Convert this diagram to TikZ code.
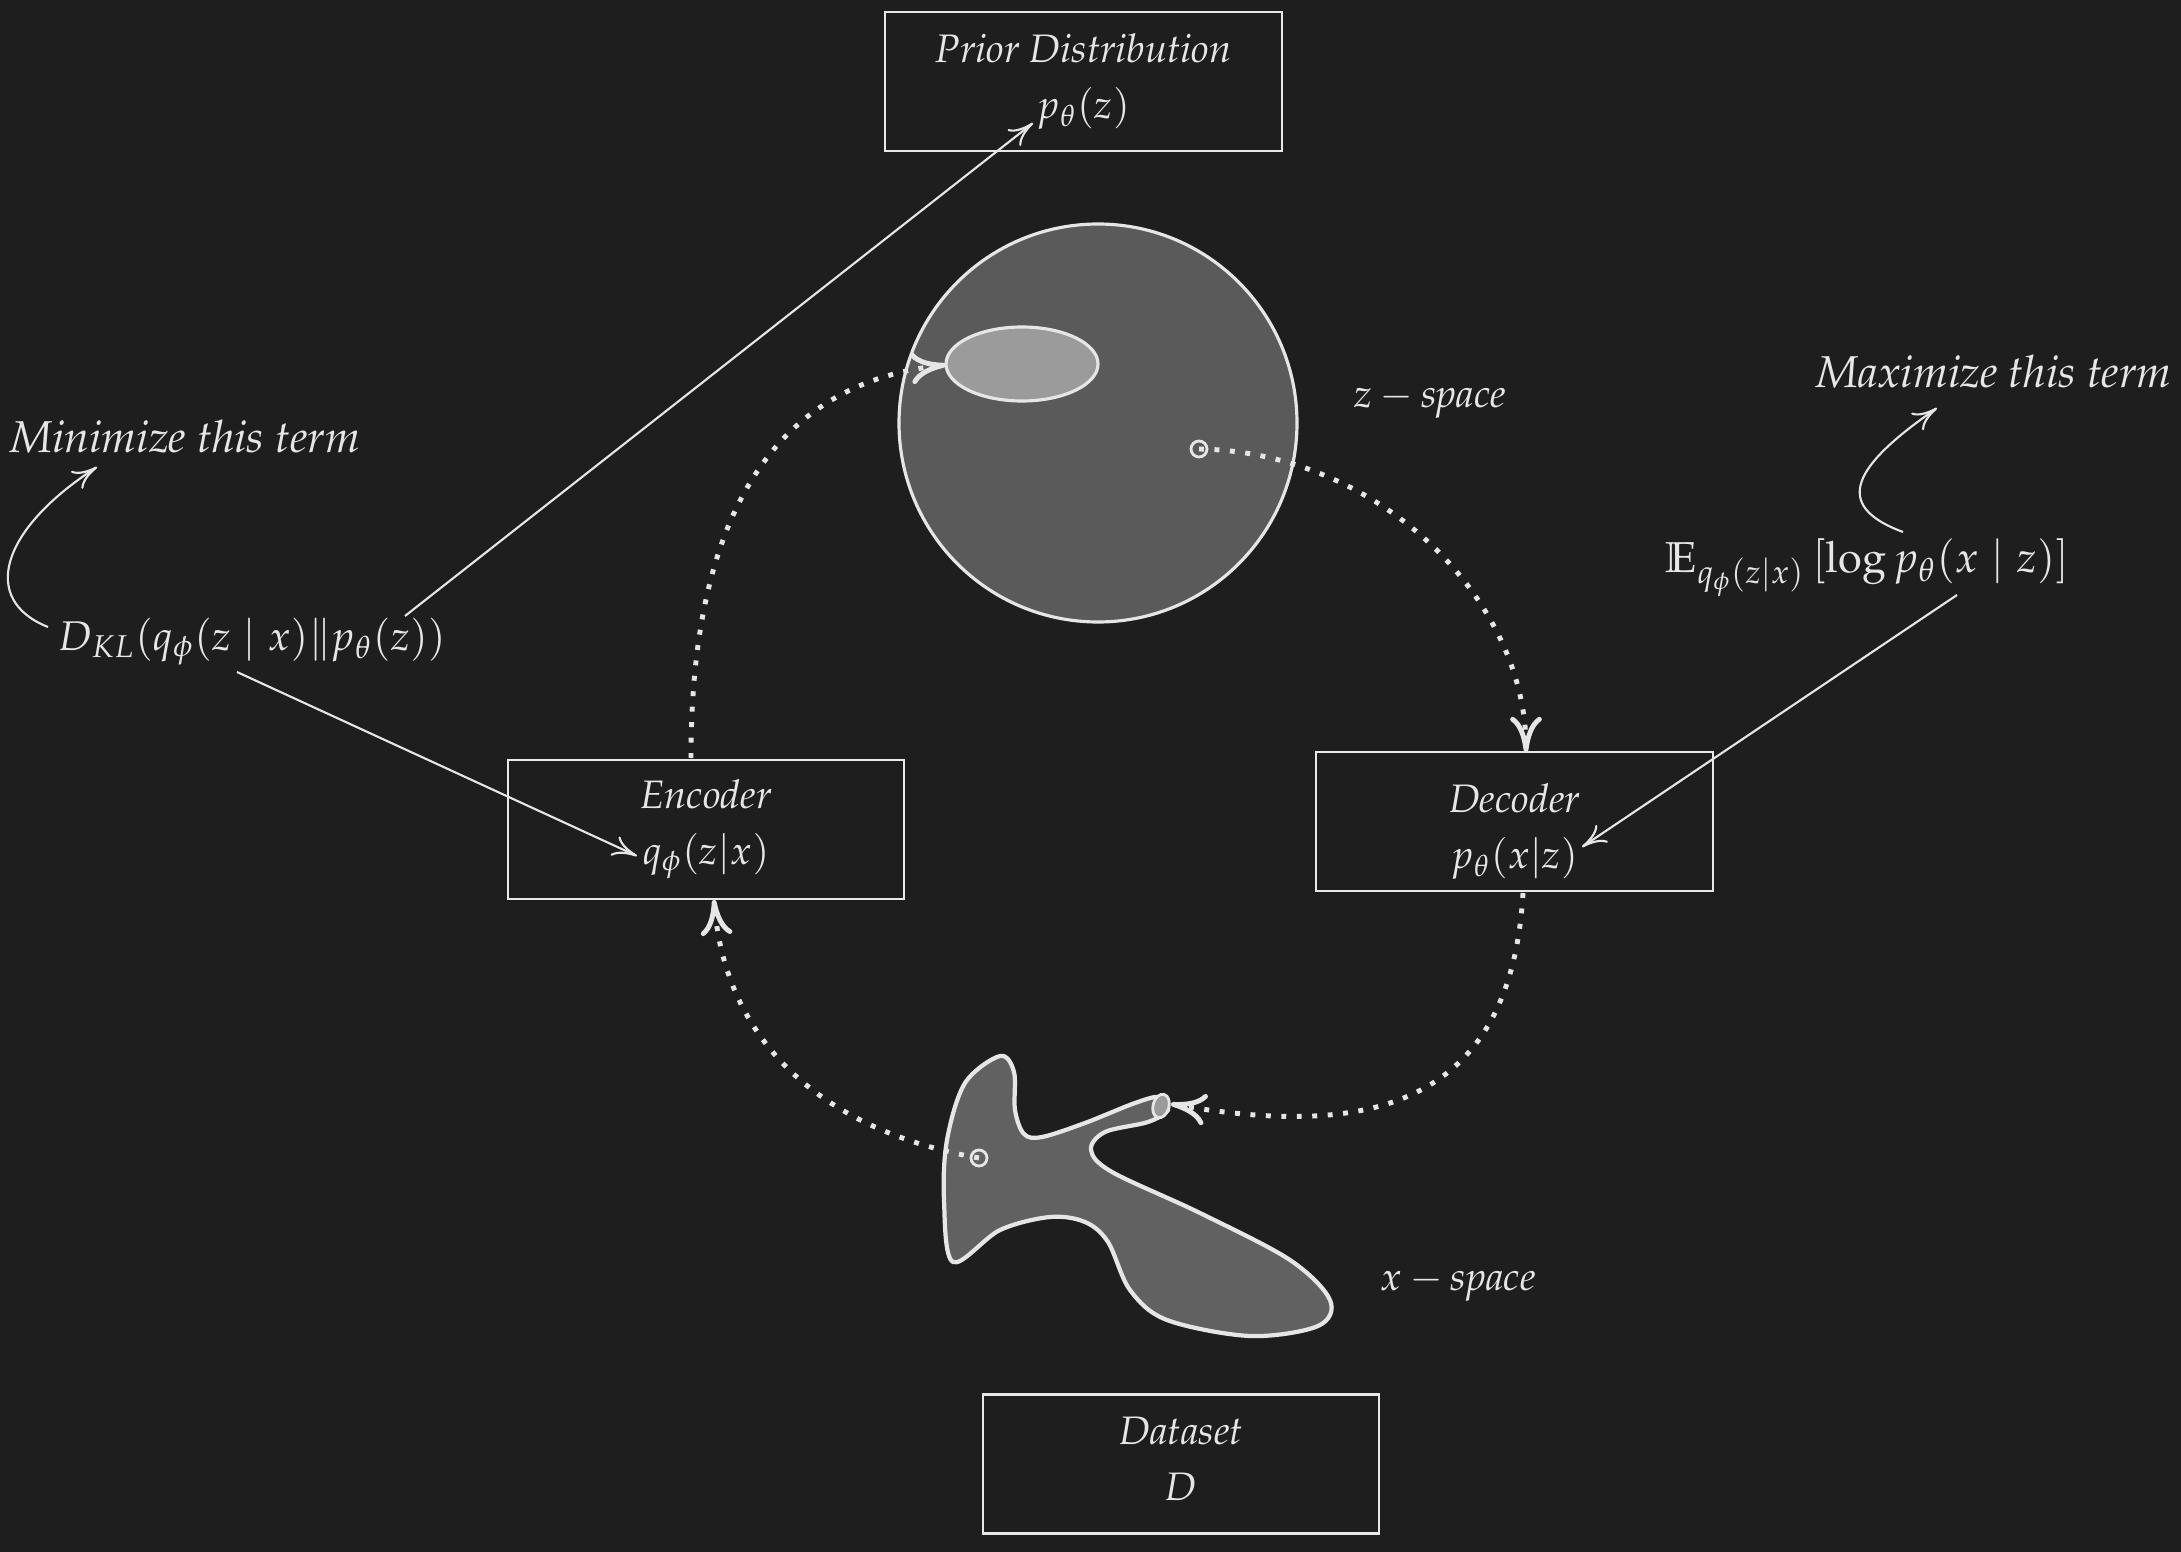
\documentclass[tikz,border=0pt]{standalone}
\usepackage[T1]{fontenc}
\usepackage{mathpazo}
\usepackage{amssymb}
\usetikzlibrary{arrows.meta,calc}
\definecolor{bg}{HTML}{1E1E1E}
\definecolor{fg}{HTML}{E6E6E6}
\definecolor{circfill}{HTML}{5A5A5A}
\definecolor{ellfill}{HTML}{9B9B9B}
\definecolor{blobfill}{HTML}{616161}
\begin{document}
\begin{tikzpicture}[x=0.01cm,y=-0.01cm,
  font=\fontsize{11.3}{16}\selectfont,
  every node/.style={text=fg},
  box/.style={draw=fg!92, line width=0.6pt, minimum width=3.96cm, minimum height=1.39cm, align=center, inner sep=0pt},
  boxtext/.style={align=center, inner sep=0pt},
  biglbl/.style={font=\fontsize{12.7}{15}\selectfont\itshape},
  mathlbl/.style={font=\fontsize{12.3}{15}\selectfont},
  flow/.style={draw=fg, line width=1.4pt, dash pattern=on 1.4pt off 3pt, -{To[length=10pt,width=9pt]}},
  note/.style={draw=fg, line width=0.6pt, -{To[length=7pt,width=6pt]}},
  shapeline/.style={draw=fg, line width=0.9pt},
  dotpt/.style={draw=fg, line width=0.8pt, fill=circfill}
]
\useasboundingbox (0,0) rectangle (2181,1552);
\fill[bg] (0,0) rectangle (2181,1552);

% boxes
\node[box] (prior) at (1083.5,81.5) {\itshape Prior Distribution\\ $p_\theta(z)$};
\node[box] (enc) at (706,829.5) {\itshape Encoder\\ $q_\phi(z|x)$};
\node[box] (dec) at (1514.5,821.5) {};
\node[boxtext] (dectxt) at (1514.5,831.5) {\itshape Decoder\\ $p_\theta(x|z)$};
\node[box] (data) at (1181,1464) {};
\node[boxtext] (datatxt) at (1181,1459) {\itshape Dataset\\ $D$};

% z-space
\draw[shapeline, fill=circfill] (1098,423) circle (199);
\draw[shapeline, fill=ellfill] (1022,364) ellipse (76 and 37);
\coordinate (ellw) at (946,365);
\coordinate (zpt) at (1199,449);
\draw[dotpt] (zpt) circle (8);

% x-space blob
\draw[draw=fg, line width=1.2pt, fill=blobfill] plot[smooth cycle, tension=0.55] coordinates {
 (953,1262) (944,1200) (947,1140) (965,1083) (1000,1056) (1014,1072) (1015,1110)
 (1024,1134) (1042,1137) (1085,1123) (1135,1103) (1160,1097) (1168,1110) (1148,1122)
 (1105,1132) (1091,1150) (1112,1172) (1200,1213) (1290,1260) (1330,1300) (1318,1326)
 (1250,1336) (1167,1320) (1130,1290) (1108,1242) (1085,1222) (1050,1217) (1000,1230)};
\draw[draw=fg, line width=0.8pt, fill=ellfill, rotate around={-15:(1161,1106)}] (1161,1106) ellipse (8 and 12);
\coordinate (xtip) at (1171,1104);
\coordinate (xpt) at (979,1158);
\draw[dotpt, fill=blobfill] (xpt) circle (8);

% labels
\node[anchor=base] (zlab) at (1430,408) {$z - \textit{space}$};
\node[anchor=base] (xlab) at (1458,1290) {$x - \textit{space}$};
\node[anchor=base, biglbl] (mini) at (185,453) {Minimize this term};
\node[anchor=base, biglbl] (maxi) at (1994,388) {Maximize this term};
\node[anchor=base, font=\fontsize{11.8}{15}\selectfont] (dkl) at (252,650) {$D_{KL}(q_\phi(z\mid x)\|p_\theta(z))$};
\node[anchor=base, mathlbl] (elbo) at (1867,573) {$\mathbb{E}_{q_\phi(z|x)}\,[\log p_\theta(x\mid z)]$};

% flow arrows (dotted)
\coordinate (dectop) at (1526,752);
\coordinate (decbot) at (1523,893);
\coordinate (encbot) at (714,900);
\coordinate (enctop) at (691,758);
\draw[flow] (zpt) .. controls (1380,452) and (1526,600) .. (dectop);
\draw[flow] (decbot) .. controls (1510,1120) and (1350,1135) .. (xtip);
\draw[flow] (xpt) .. controls (820,1130) and (725,1040) .. (encbot);
\draw[flow] (enctop) .. controls (691,480) and (800,380) .. (ellw);

% annotation arrows
\coordinate (dklA) at (405,616);
\coordinate (dklB) at (237,672);
\coordinate (dklC) at (48,627);
\coordinate (priortip) at (1033,123);
\coordinate (enctip) at (637,856);
\coordinate (minitip) at (97,467);
\coordinate (elboA) at (1957,595);
\coordinate (elboB) at (1903,532);
\coordinate (dectip) at (1582,847);
\coordinate (maxitip) at (1937,408);
\draw[note] (dklA) -- (priortip);
\draw[note] (dklB) -- (enctip);
\draw[note] (dklC) .. controls (-20,600) and (0,530) .. (minitip);
\draw[note] (elboA) -- (dectip);
\draw[note] (elboB) .. controls (1830,505) and (1855,465) .. (maxitip);
\end{tikzpicture}
\end{document}
